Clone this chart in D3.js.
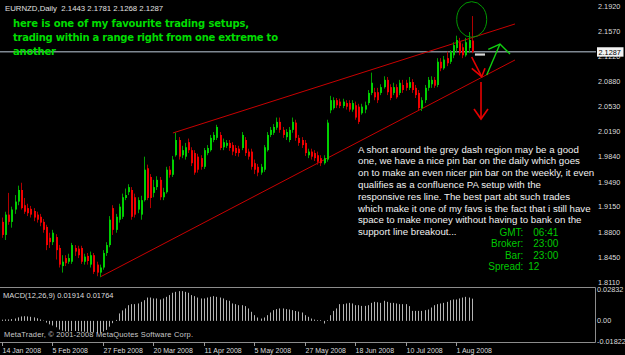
<!DOCTYPE html>
<html>
<head>
<meta charset="utf-8">
<script src="https://cdn.jsdelivr.net/npm/d3@7/dist/d3.min.js"></script>
<style>
	body { margin: 0; background: #000; }
	svg { display: block; }
</style>
</head>
<body>
<svg id="chartHolder" width="625" height="355"></svg>
<script>
// EURNZD daily candles, 14 Jan 2008 .. 8 Aug 2008
var opens = [1.894,1.876,1.904,1.894,1.911,1.922,1.938,1.917,1.913,1.912,
	1.909,1.904,1.901,1.894,1.887,1.872,1.866,1.873,1.858,1.833,
	1.844,1.839,1.839,1.858,1.857,1.858,1.839,1.847,1.835,1.848,
	1.835,1.824,1.831,1.851,1.862,1.913,1.883,1.897,1.901,1.927,
	1.935,1.938,1.928,1.911,1.904,1.924,1.968,1.956,1.934,1.942,
	1.952,1.928,1.935,1.966,1.959,1.986,2.007,1.986,1.984,2.004,
	1.993,1.989,1.984,1.982,1.970,1.989,1.993,2.007,2.010,2.014,
	1.997,1.999,2.003,2.000,1.996,1.995,1.996,2.007,1.991,1.991,
	1.975,1.970,1.962,1.966,1.993,2.014,2.017,2.024,2.032,2.021,
	2.011,2.007,2.021,2.031,2.010,2.007,2.003,1.986,1.991,1.989,
	1.986,1.982,1.975,1.980,2.048,2.051,2.062,2.060,2.054,2.058,
	2.058,2.049,2.055,2.053,2.044,2.049,2.058,2.072,2.073,2.073,
	2.072,2.080,2.090,2.080,2.072,2.080,2.072,2.083,2.086,2.079,
	2.087,2.079,2.072,2.051,2.062,2.079,2.084,2.090,2.083,2.115,
	2.106,2.120,2.115,2.124,2.134,2.142,2.135,2.124,2.134,2.1443];

var highs = [1.900,1.908,1.934,1.915,1.931,1.944,1.948,1.927,1.919,1.916,
	1.913,1.908,1.905,1.898,1.890,1.879,1.883,1.877,1.862,1.848,
	1.848,1.850,1.865,1.862,1.861,1.861,1.850,1.851,1.853,1.851,
	1.839,1.835,1.855,1.866,1.902,1.917,1.905,1.919,1.933,1.940,
	1.946,1.942,1.933,1.928,1.930,1.984,1.973,1.960,1.952,1.957,
	1.956,1.941,1.970,1.971,1.985,2.017,2.011,1.999,2.003,2.009,
	1.997,1.993,1.988,1.986,1.996,2.000,2.014,2.018,2.028,2.018,
	2.009,2.007,2.007,2.004,2.000,1.999,2.018,2.011,1.995,1.995,
	1.980,1.974,1.974,2.000,2.018,2.025,2.029,2.038,2.038,2.025,
	2.022,2.025,2.038,2.035,2.014,2.011,2.007,1.995,1.995,1.993,
	1.991,1.986,1.986,2.035,2.068,2.066,2.065,2.064,2.064,2.062,
	2.062,2.062,2.060,2.057,2.057,2.060,2.076,2.100,2.079,2.079,
	2.084,2.095,2.094,2.084,2.086,2.084,2.090,2.090,2.090,2.094,
	2.091,2.083,2.076,2.066,2.083,2.094,2.095,2.094,2.120,2.120,
	2.123,2.129,2.131,2.142,2.151,2.148,2.140,2.148,2.156,2.1781];

var lows = [1.872,1.869,1.890,1.886,1.905,1.917,1.911,1.905,1.902,1.900,
	1.895,1.893,1.888,1.879,1.855,1.858,1.862,1.842,1.831,1.824,
	1.833,1.836,1.836,1.847,1.844,1.836,1.835,1.835,1.831,1.822,
	1.819,1.818,1.828,1.847,1.859,1.876,1.879,1.893,1.898,1.924,
	1.931,1.897,1.900,1.906,1.897,1.922,1.924,1.913,1.928,1.938,
	1.924,1.924,1.933,1.955,1.956,1.984,1.980,1.982,1.980,1.989,
	1.971,1.959,1.962,1.966,1.967,1.986,1.991,2.004,2.007,1.993,
	1.993,1.996,1.992,1.986,1.985,1.984,1.993,1.985,1.980,1.966,
	1.960,1.957,1.959,1.963,1.991,2.011,2.014,2.021,2.017,2.010,
	2.007,2.004,2.017,2.006,1.999,1.996,1.985,1.982,1.980,1.978,
	1.973,1.971,1.973,1.977,2.044,2.049,2.051,2.051,2.051,2.049,
	2.046,2.046,2.035,2.029,2.042,2.044,2.055,2.069,2.062,2.058,
	2.069,2.078,2.069,2.062,2.069,2.064,2.069,2.072,2.075,2.076,
	2.072,2.065,2.047,2.047,2.058,2.075,2.079,2.079,2.080,2.102,
	2.104,2.109,2.112,2.120,2.129,2.124,2.120,2.122,2.127,2.1268];

var closes = [1.876,1.904,1.894,1.911,1.922,1.938,1.913,1.908,1.906,1.904,
	1.900,1.897,1.893,1.883,1.862,1.866,1.879,1.855,1.835,1.839,
	1.837,1.844,1.862,1.853,1.848,1.839,1.846,1.840,1.848,1.825,
	1.824,1.831,1.851,1.862,1.897,1.883,1.901,1.915,1.928,1.931,
	1.942,1.901,1.904,1.924,1.924,1.966,1.927,1.927,1.942,1.952,
	1.928,1.935,1.966,1.959,1.980,2.007,1.984,1.993,1.997,1.993,
	1.975,1.962,1.966,1.970,1.993,1.996,2.010,2.014,2.025,1.996,
	2.004,2.003,1.996,1.991,1.989,1.989,2.014,1.989,1.984,1.970,
	1.966,1.962,1.970,1.997,2.014,2.021,2.025,2.032,2.021,2.014,
	2.018,2.021,2.032,2.010,2.003,2.000,1.989,1.991,1.984,1.982,
	1.977,1.975,1.982,2.031,2.062,2.062,2.055,2.054,2.060,2.053,
	2.049,2.058,2.038,2.032,2.053,2.055,2.072,2.086,2.066,2.062,
	2.080,2.090,2.073,2.065,2.080,2.066,2.086,2.076,2.079,2.087,
	2.076,2.069,2.051,2.062,2.079,2.090,2.090,2.082,2.115,2.106,
	2.118,2.113,2.129,2.138,2.145,2.127,2.124,2.142,2.145,2.1287];

// MACD(12,26,9) main values, drawn as histogram
var macd = [0.0010,0.0012,0.0012,0.0015,0.0020,0.0030,0.0038,0.0040,0.0038,0.0035,
	0.0030,0.0022,0.0012,0.0003,-0.0015,-0.0030,-0.0040,-0.0055,-0.0075,-0.0085,
	-0.0090,-0.0092,-0.0088,-0.0087,-0.0088,-0.0092,-0.0093,-0.0095,-0.0096,-0.0100,
	-0.0104,-0.0102,-0.0092,-0.0078,-0.0050,-0.0020,0.0008,0.0064,0.0090,0.0107,
	0.0135,0.0144,0.0144,0.0150,0.0164,0.0178,0.0201,0.0201,0.0193,0.0193,
	0.0184,0.0193,0.0207,0.0222,0.0242,0.0250,0.0256,0.0256,0.0250,0.0242,
	0.0222,0.0213,0.0201,0.0193,0.0193,0.0201,0.0207,0.0213,0.0207,0.0201,
	0.0193,0.0178,0.0173,0.0150,0.0144,0.0135,0.0135,0.0127,0.0107,0.0078,
	0.0049,0.0029,0.0020,0.0029,0.0049,0.0072,0.0092,0.0101,0.0107,0.0107,
	0.0101,0.0098,0.0092,0.0085,0.0080,0.0072,0.0049,0.0035,0.0020,0.0011,
	0.0006,0.0006,-0.0023,0.0006,0.0049,0.0086,0.0107,0.0144,0.0144,0.0150,
	0.0155,0.0150,0.0135,0.0135,0.0129,0.0129,0.0135,0.0155,0.0164,0.0160,
	0.0155,0.0173,0.0164,0.0155,0.0155,0.0150,0.0144,0.0144,0.0144,0.0127,
	0.0086,0.0086,0.0086,0.0086,0.0092,0.0098,0.0115,0.0135,0.0144,0.0150,
	0.0155,0.0164,0.0178,0.0184,0.0184,0.0193,0.0201,0.0207,0.0201,0.01914];
var macdSignal = 0.01764;

var priceTicks = [2.1920,2.1570,2.1220,2.0880,2.0530,2.0190,1.9840,1.9490,1.9150,1.8800,1.8450,1.8110];
var macdTicks = [0.02832, 0, -0.01822];
var macdTickLabels = ["0.02832", "0.00", "-0.01822"];
var dateIdx = [0, 16, 32, 48, 64, 80, 96, 112, 128, 144];
var dateLabels = ["14 Jan 2008","5 Feb 2008","27 Feb 2008","20 Mar 2008","11 Apr 2008","5 May 2008","27 May 2008","18 Jun 2008","10 Jul 2008","1 Aug 2008"];

// trend lines and hand drawn marks, in [bar, price]
var trendUpper = [[54.2, 2.0167], [162.7, 2.1672]];
var trendLower = [[31.1, 1.8179], [162.7, 2.1175]];
var arrowDown1 = [[148.97, 2.1216], [152.14, 2.0944]];
var arrowHead1 = [[149.0, 2.1060], [152.14, 2.0944], [153.19, 2.1060]];
var arrowDown2 = [[151.92, 2.0871], [151.92, 2.0360]];
var arrowHead2 = [[149.70, 2.0498], [151.92, 2.0360], [154.14, 2.0498]];
var arrowUp = [[153.73, 2.0967], [157.94, 2.1395]];
var arrowHeadUp = [[154.23, 2.1322], [157.94, 2.1395], [161.12, 2.1257]];
var greyDash = [[150.0, 2.1250], [153.19, 2.1250]];
var pinCircle = {bar: 148.97, price: 2.1734, rBars: 4.76, rPrice: 0.0246};

var noteLines = ["here is one of my favourite trading setups,",
	"trading within a range right from one extreme to",
	"another"];
var noteWidths = [236, 265, 43];
var commentLines = ["A short around the grey dash region may be a good",
	"one, we have a nice pin bar on the daily which goes",
	"on to make an even nicer pin bar on the weekly, it even",
	"qualifies as a confluence PA setup with the",
	"responsive res line. The best part abt such trades",
	"which make it one of my favs is the fact that i still have",
	"space to make money without having to bank on the",
	"support line breakout..."];
var infoLabels = ["GMT:", "Broker:", "Bar:", "Spread:"];
var infoValues = ["06:41", "23:00", "23:00", "12"];

var svg = d3.select("#chartHolder");
var sans = "'Liberation Sans', Arial, sans-serif";

svg.append("rect")
	.attr("width", 625)
	.attr("height", 355)
	.style("fill", "#000");

// scales
var x = d3.scaleLinear().domain([0, 188]).range([2, 2 + 188 * 3.153]);
var y = d3.scaleLinear().domain([1.8110, 2.1920]).range([282, 6]);
var yM = d3.scaleLinear().domain([-0.01822, 0.02832]).range([342, 288]);

var line = d3.line()
	.x(function(d) { return x(d[0]); })
	.y(function(d) { return y(d[1]); });

// bid line
var bid = closes[closes.length - 1];
svg.append("line")
	.attr("x1", 0)
	.attr("x2", 596)
	.attr("y1", y(bid))
	.attr("y2", y(bid))
	.style("stroke", "#7f8892")
	.style("stroke-width", 1.5);

// trend lines
[trendUpper, trendLower].forEach(function(t) {
	svg.append("path")
		.attr("d", line(t))
		.style("fill", "none")
		.style("stroke", "#c80000")
		.style("stroke-width", 1);
});

// candles
var bars = d3.range(opens.length).map(function(i) {
	return {i: i, o: opens[i], h: highs[i], l: lows[i], c: closes[i], up: closes[i] >= opens[i]};
});

var candleG = svg.append("g");
candleG.selectAll("line.wick")
	.data(bars)
	.enter().append("line")
	.attr("class", "wick")
	.attr("x1", function(d) { return Math.round(x(d.i)) + 0.5; })
	.attr("x2", function(d) { return Math.round(x(d.i)) + 0.5; })
	.attr("y1", function(d) { return y(d.h); })
	.attr("y2", function(d) { return y(d.l); })
	.style("stroke", function(d) { return d.up ? "#00a000" : "#b00000"; })
	.style("stroke-width", 1);

candleG.selectAll("rect.body")
	.data(bars)
	.enter().append("rect")
	.attr("class", "body")
	.attr("x", function(d) { return Math.round(x(d.i)); })
	.attr("y", function(d) { return y(Math.max(d.o, d.c)); })
	.attr("width", 2)
	.attr("height", function(d) { return Math.max(1, Math.abs(y(d.o) - y(d.c))); })
	.style("fill", function(d) { return d.up ? "#00d000" : "#f00000"; });

// hand drawn marks
svg.append("ellipse")
	.attr("cx", x(pinCircle.bar))
	.attr("cy", y(pinCircle.price))
	.attr("rx", x(pinCircle.rBars) - x(0))
	.attr("ry", y(0) - y(pinCircle.rPrice))
	.style("fill", "none")
	.style("stroke", "#009a00")
	.style("stroke-width", 1);

[arrowDown1, arrowHead1, arrowDown2, arrowHead2].forEach(function(a) {
	svg.append("path")
		.attr("d", line(a))
		.style("fill", "none")
		.style("stroke", "#e80000")
		.style("stroke-width", 1.6);
});

[arrowUp, arrowHeadUp].forEach(function(a) {
	svg.append("path")
		.attr("d", line(a))
		.style("fill", "none")
		.style("stroke", "#10d010")
		.style("stroke-width", 1.4);
});

svg.append("path")
	.attr("d", line(greyDash))
	.style("stroke", "#d8d8d8")
	.style("stroke-width", 2.2);

// price axis labels
svg.selectAll("text.ptick")
	.data(priceTicks)
	.enter().append("text")
	.attr("class", "ptick")
	.attr("x", 598)
	.attr("y", function(d) { return y(d) + 2.6; })
	.style("font-family", sans)
	.style("font-size", "7.3px")
	.style("fill", "#dcdcdc")
	.text(function(d) { return d.toFixed(4); });

// bid box
svg.append("rect")
	.attr("x", 597)
	.attr("y", y(bid) - 4.6)
	.attr("width", 26.5)
	.attr("height", 9.4)
	.style("fill", "#f2f2f2");

svg.append("text")
	.attr("x", 598.5)
	.attr("y", y(bid) + 2.7)
	.style("font-family", sans)
	.style("font-size", "7.3px")
	.style("fill", "#000")
	.text(bid.toFixed(4));

// MACD window
var frame = svg.append("g")
	.style("stroke", "#8c8c8c")
	.style("stroke-width", 1);
frame.append("line").attr("x1", 0).attr("x2", 595.5).attr("y1", 287.5).attr("y2", 287.5);
frame.append("line").attr("x1", 595.5).attr("x2", 595.5).attr("y1", 287.5).attr("y2", 342.5);
frame.append("line").attr("x1", 0).attr("x2", 595.5).attr("y1", 342.5).attr("y2", 342.5);

svg.selectAll("line.hist")
	.data(macd)
	.enter().append("line")
	.attr("class", "hist")
	.attr("x1", function(d, i) { return Math.round(x(i)) + 0.5; })
	.attr("x2", function(d, i) { return Math.round(x(i)) + 0.5; })
	.attr("y1", yM(0))
	.attr("y2", function(d) { return yM(d); })
	.style("stroke", "#b4b4b4")
	.style("stroke-width", 1);

// top label sits just under the frame, the others on their value
svg.selectAll("text.mtick")
	.data(macdTicks)
	.enter().append("text")
	.attr("class", "mtick")
	.attr("x", 597)
	.attr("y", function(d, i) { return i == 0 ? yM(d) + 4.2 : (i == 2 ? yM(d) + 1.6 : yM(d) + 2.4); })
	.style("font-family", sans)
	.style("font-size", "7.3px")
	.style("fill", "#dcdcdc")
	.text(function(d, i) { return macdTickLabels[i]; });

svg.append("text")
	.attr("x", 3)
	.attr("y", 298)
	.style("font-family", sans)
	.style("font-size", "7.5px")
	.style("fill", "#dcdcdc")
	.text("MACD(12,26,9) " + macd[macd.length - 1].toFixed(5) + " " + macdSignal.toFixed(5));

svg.append("text")
	.attr("x", 4)
	.attr("y", 336.5)
	.attr("textLength", 189)
	.style("font-family", sans)
	.style("font-size", "7.5px")
	.style("fill", "#c8c8c8")
	.text("MetaTrader, \u00a9 2001-2008 MetaQuotes Software Corp.");

// date axis
svg.selectAll("line.dtick")
	.data(dateIdx)
	.enter().append("line")
	.attr("class", "dtick")
	.attr("x1", function(d) { return Math.round(x(d)) + 0.5; })
	.attr("x2", function(d) { return Math.round(x(d)) + 0.5; })
	.attr("y1", 342)
	.attr("y2", 346)
	.style("stroke", "#9a9a9a");

svg.selectAll("text.dlabel")
	.data(dateIdx)
	.enter().append("text")
	.attr("class", "dlabel")
	.attr("x", function(d) { return Math.round(x(d)) + 0.5; })
	.attr("y", 352.5)
	.style("font-family", sans)
	.style("font-size", "7px")
	.style("fill", "#dcdcdc")
	.text(function(d, i) { return dateLabels[i]; });

// header
svg.append("text")
	.attr("x", 5)
	.attr("y", 11)
	.style("font-family", sans)
	.style("font-size", "7.8px")
	.style("fill", "#e0e0e0")
	.style("white-space", "pre")
	.text("EURNZD,Daily  " + [opens[149], highs[149], lows[149], closes[149]].map(function(v) { return v.toFixed(4); }).join(" "));

// green note top left
svg.selectAll("text.note")
	.data(noteLines)
	.enter().append("text")
	.attr("class", "note")
	.attr("x", 13)
	.attr("y", function(d, i) { return 26.7 + i * 13.9; })
	.attr("textLength", function(d, i) { return noteWidths[i]; })
	.style("font-family", "'DejaVu Sans', Verdana, sans-serif")
	.style("font-weight", "bold")
	.style("font-size", "10px")
	.style("fill", "#00dc00")
	.text(function(d) { return d; });

// white comment
svg.selectAll("text.comment")
	.data(commentLines)
	.enter().append("text")
	.attr("class", "comment")
	.attr("x", 358)
	.attr("y", function(d, i) { return 152.7 + i * 11.76; })
	.style("font-family", sans)
	.style("font-size", "9.7px")
	.style("fill", "#f0f0f0")
	.text(function(d) { return d; });

// info block
svg.selectAll("text.infoLabel")
	.data(infoLabels)
	.enter().append("text")
	.attr("class", "infoLabel")
	.attr("x", 523.3)
	.attr("y", function(d, i) { return 236 + i * 11.25; })
	.attr("text-anchor", "end")
	.style("font-family", sans)
	.style("font-size", "10px")
	.style("fill", "#00c800")
	.text(function(d) { return d; });

svg.selectAll("text.infoValue")
	.data(infoValues)
	.enter().append("text")
	.attr("class", "infoValue")
	.attr("x", function(d, i) { return i == 3 ? 528.3 : 533.3; })
	.attr("y", function(d, i) { return 236 + i * 11.25; })
	.style("font-family", sans)
	.style("font-size", "10px")
	.style("fill", "#00c800")
	.text(function(d) { return d; });
</script>
</body>
</html>
